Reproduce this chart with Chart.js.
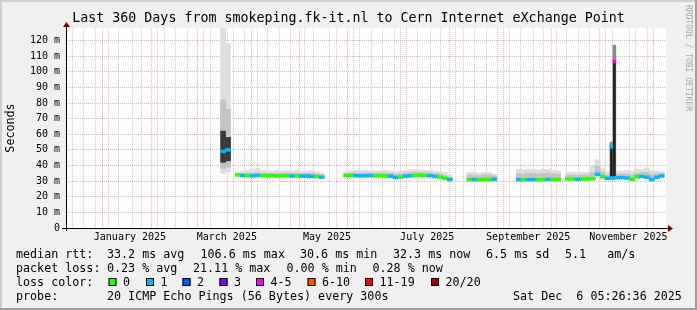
<!DOCTYPE html>
<html>
<head>
<meta charset="utf-8">
<script src="https://cdn.jsdelivr.net/npm/chart.js@4/dist/chart.umd.min.js"></script>
<style>
  html, body { margin: 0; padding: 0; background: #f0f0f0; }
  canvas { display: block; }
</style>
</head>
<body>
<canvas id="graph" width="697" height="310"></canvas>
<script>
// x values are days since Dec 11 2024 05:26 (graph start), 3-day steps
const days = [93, 96,
  102, 105, 108, 111, 114, 117, 120, 123, 126, 129, 132, 135, 138, 141, 144, 147, 150, 153,
  168, 171, 174, 177, 180, 183, 186, 189, 192, 195, 198, 201, 204, 207, 210, 213, 216, 219, 222, 225, 228, 231,
  243, 246, 249, 252, 255, 258,
  273, 276, 279, 282, 285, 288, 291, 294, 297,
  303, 306, 309, 312, 315, 318, 321, 324, 327, 330, 333, 336, 339, 342, 345, 348, 351, 354, 357, 360];

// median rtt in ms
const median = [49, 50,
  34.0, 33.6, 33.5, 33.4, 33.6, 33.5, 33.4, 33.5, 33.3, 33.4, 33.5, 33.3, 33.4, 33.2, 33.3, 33.0, 32.9, 32.5,
  33.5, 33.6, 33.5, 33.4, 33.5, 33.6, 33.4, 33.5, 33.3, 33.2, 32.3, 32.6, 33.2, 33.4, 33.7, 33.8, 33.6, 33.5, 33.0, 32.6, 31.8, 31.0,
  31.0, 31.0, 30.9, 31.0, 31.0, 31.2,
  31.0, 30.9, 31.0, 31.0, 30.9, 31.0, 31.1, 31.0, 31.0,
  31.3, 31.3, 31.2, 31.3, 31.4, 31.5, 34.4, 32.8, 31.8, 32.0, 32.2, 32.3, 32.0, 31.2, 32.8, 33.0, 32.5, 31.0, 32.5, 33.3];

// loss colour class (index into lossColors)
const loss = [1, 1,
  0, 1, 0, 1, 1, 0, 0, 0, 0, 0, 0, 1, 0, 1, 1, 1, 0, 1,
  0, 0, 1, 1, 1, 1, 0, 0, 0, 1, 1, 0, 1, 1, 0, 0, 0, 1, 1, 0, 0, 1,
  0, 1, 0, 0, 0, 1,
  1, 0, 1, 1, 0, 0, 1, 0, 0,
  0, 0, 1, 0, 0, 0, 1, 0, 1, 1, 1, 1, 1, 0, 0, 1, 1, 1, 1, 1];

// smoke: fastest / slowest ping
const smokeMin = [35, 36,
  33.0, 32.6, 32.5, 32.5, 32.6, 32.5, 32.5, 32.5, 32.4, 32.5, 32.5, 32.4, 32.5, 32.3, 32.4, 32.1, 32.0, 31.6,
  32.6, 32.6, 32.5, 32.5, 32.5, 32.6, 32.5, 32.5, 32.4, 32.3, 31.5, 31.7, 32.3, 32.5, 32.8, 32.8, 32.6, 32.5, 32.0, 31.6, 30.8, 30.2,
  30.3, 30.3, 30.2, 30.3, 30.3, 30.4,
  30.3, 30.2, 30.3, 30.3, 30.2, 30.3, 30.4, 30.3, 30.3,
  30.6, 30.6, 30.5, 30.6, 30.6, 30.8, 32.5, 31.8, 30.8, 31.0, 31.2, 31.3, 31.0, 30.4, 31.8, 32.0, 31.5, 30.2, 31.5, 32.3];
const smokeMax = [128, 118,
  35.0, 36.5, 37.0, 37.5, 38.0, 37.0, 36.5, 36.5, 37.0, 36.5, 36.8, 36.5, 37.0, 36.5, 36.5, 36.8, 36.0, 35.0,
  36.0, 36.5, 36.8, 36.5, 37.0, 36.8, 36.5, 36.8, 37.0, 36.5, 36.0, 36.5, 37.0, 37.5, 37.5, 37.2, 37.0, 36.8, 36.5, 36.2, 35.5, 34.0,
  35.5, 35.5, 35.0, 35.5, 35.5, 34.5,
  37.5, 37.0, 37.5, 37.5, 37.0, 37.5, 37.5, 37.0, 36.5,
  35.4, 35.5, 35.4, 35.5, 35.5, 40.0, 43.7, 38.0, 36.0, 36.0, 36.5, 36.5, 37.0, 36.5, 37.5, 37.5, 38.5, 37.0, 36.5, 36.0];
// smoke: denser middle part of the pings
const innerLo = [38, 39,
  33.6, 33.2, 33.1, 33.0, 33.2, 33.1, 33.0, 33.1, 32.9, 33.0, 33.1, 32.9, 33.0, 32.8, 32.9, 32.6, 32.5, 32.1,
  33.1, 33.2, 33.1, 33.0, 33.1, 33.2, 33.0, 33.1, 32.9, 32.8, 31.9, 32.2, 32.8, 33.0, 33.3, 33.4, 33.2, 33.1, 32.6, 32.2, 31.4, 30.6,
  30.7, 30.7, 30.6, 30.7, 30.7, 30.9,
  30.7, 30.6, 30.7, 30.7, 30.6, 30.7, 30.8, 30.7, 30.7,
  31.0, 31.0, 30.9, 31.0, 31.1, 31.2, 33.4, 32.4, 31.4, 31.6, 31.8, 31.9, 31.6, 30.8, 32.4, 32.6, 32.1, 30.6, 32.1, 32.9];
const innerHi = [82, 76,
  34.5, 35.0, 35.2, 35.4, 35.6, 35.2, 35.0, 35.0, 35.2, 35.0, 35.2, 35.0, 35.2, 34.9, 35.0, 35.0, 34.6, 34.0,
  35.0, 35.2, 35.3, 35.2, 35.4, 35.3, 35.1, 35.3, 35.3, 35.0, 34.4, 34.8, 35.4, 35.7, 35.8, 35.6, 35.5, 35.3, 34.9, 34.6, 33.6, 32.6,
  34.0, 33.5, 33.5, 34.0, 34.0, 33.5,
  35.0, 34.5, 35.0, 35.0, 34.5, 35.0, 35.2, 34.8, 34.5,
  33.6, 33.8, 33.6, 33.8, 33.8, 35.5, 39.5, 35.5, 33.8, 34.0, 34.5, 34.6, 34.6, 33.8, 35.2, 35.4, 35.6, 34.0, 34.6, 35.0];

// dark core of the March cluster
const coreDays = [93, 96];
const coreLo = [42, 43];
const coreHi = [62, 58];

// November spike
const spikeDays = [329.4, 331.2];
const spikeMin = [31.5, 31.5];
const spikeMax = [55, 117];
const spikeCoreLo = [31.8, 32.0];
const spikeCoreHi = [52, 107];
const spikeMedian = [52.0, 106.6];
const spikeLoss = [1, 4];

const lossColors = ["#26ff00", "#00b8ff", "#0059ff", "#7e00ff", "#ff00ff", "#ff5500", "#ff0000", "#a10000"];
const lossLabels = ["0", "1", "2", "3", "4-5", "6-10", "11-19", "20/20"];

// axes
const yMajor = [0, 10, 20, 30, 40, 50, 60, 70, 80, 90, 100, 110, 120];
const yLabels = ["0", "10 m", "20 m", "30 m", "40 m", "50 m", "60 m", "70 m", "80 m", "90 m", "100 m", "110 m", "120 m"];
const monthStarts = [20.774, 51.774, 79.774, 110.774, 140.774, 171.774, 201.774, 232.774, 263.774, 293.774, 324.774, 354.774];
const monthLabelDays = [36.27, 95.27, 156.27, 217.27, 278.77, 339.77];
const monthLabels = ["January 2025", "March 2025", "May 2025", "July 2025", "September 2025", "November 2025"];
const firstMonday = 4.774;

const MONO = "DejaVu Sans Mono";
const GRID = "rgba(143,143,143,0.46)";
const MGRID = "rgba(222,80,80,0.46)";

const floating = (xs, lo, hi) => xs.map((x, i) => ({ x: x, y: [lo[i], hi[i]] }));
const marker = (xs, m) => xs.map((x, i) => ({ x: x, y: [m[i] - 0.9, m[i] + 0.9] }));

const barBase = { type: "bar", grouped: false, borderWidth: 0, barThickness: 5 };

const frame = {
  id: "frame",
  beforeDraw(chart) {
    const { ctx, chartArea: a } = chart;
    ctx.save();
    ctx.fillStyle = "#f0f0f0";
    ctx.fillRect(0, 0, 697, 310);
    ctx.fillStyle = "#cfcfcf";
    ctx.fillRect(0, 0, 697, 2);
    ctx.fillRect(0, 0, 2, 310);
    ctx.fillStyle = "#9e9e9e";
    ctx.fillRect(0, 308, 697, 2);
    ctx.fillRect(695, 0, 2, 310);
    ctx.fillStyle = "#ffffff";
    ctx.fillRect(a.left, a.top, a.right - a.left, a.bottom - a.top);
    ctx.restore();
  },
  afterDraw(chart) {
    const { ctx, chartArea: a } = chart;
    ctx.save();
    // axes
    ctx.strokeStyle = "#000";
    ctx.lineWidth = 1;
    ctx.beginPath();
    ctx.moveTo(a.left - 4, a.bottom + 0.5);
    ctx.lineTo(a.right + 4, a.bottom + 0.5);
    ctx.moveTo(a.left + 0.5, a.bottom + 3);
    ctx.lineTo(a.left + 0.5, a.top - 3);
    ctx.stroke();
    ctx.fillStyle = "#7f0000";
    ctx.beginPath();
    ctx.moveTo(a.right + 2, a.bottom - 3);
    ctx.lineTo(a.right + 7, a.bottom + 0.5);
    ctx.lineTo(a.right + 2, a.bottom + 4);
    ctx.fill();
    ctx.beginPath();
    ctx.moveTo(a.left - 3, a.top - 1);
    ctx.lineTo(a.left + 0.5, a.top - 6);
    ctx.lineTo(a.left + 4, a.top - 1);
    ctx.fill();

    // legend
    ctx.fillStyle = "#000";
    ctx.font = "11.7px '" + MONO + "'";
    ctx.textBaseline = "middle";
    ctx.textAlign = "left";
    const rows = [
      [254.5, [["median rtt:", 16], ["33.2 ms avg", 107], ["106.6 ms max", 200.5], ["30.6 ms min", 300], ["32.3 ms now", 393], ["6.5 ms sd", 486], ["5.1   am/s", 565]]],
      [268.5, [["packet loss:", 16], ["0.23 % avg", 107], ["21.11 % max", 193], ["0.00 % min", 286.5], ["0.28 % now", 372.5]]],
      [282.5, [["loss color:", 16]]],
      [296.5, [["probe:", 16], ["20 ICMP Echo Pings (56 Bytes) every 300s", 107], ["Sat Dec  6 05:26:36 2025", 513]]]
    ];
    rows.forEach(([y, items]) => items.forEach(([t, x]) => ctx.fillText(t, x, y)));
    const boxX = [108.5, 146, 182.5, 219.5, 256, 307.5, 365, 431];
    lossLabels.forEach((lbl, i) => {
      ctx.fillStyle = lossColors[i];
      ctx.fillRect(boxX[i], 278, 8, 8);
      ctx.strokeStyle = "#000";
      ctx.strokeRect(boxX[i] + 0.5, 278.5, 7, 7);
      ctx.fillStyle = "#000";
      ctx.fillText(lbl, boxX[i] + 14.5, 282.5);
    });

    // watermark
    ctx.translate(688, 5);
    ctx.rotate(Math.PI / 2);
    ctx.font = "8px '" + MONO + "'";
    ctx.fillStyle = "#a8a8a8";
    ctx.fillText("RRDTOOL / TOBI OETIKER", 0, 0);
    ctx.restore();
  }
};

new Chart(document.getElementById("graph"), {
  data: {
    datasets: [
      { ...barBase, order: 1, data: marker(spikeDays, spikeMedian), backgroundColor: spikeLoss.map(l => lossColors[l]), barThickness: 3 },
      { ...barBase, order: 2, data: marker(days, median), backgroundColor: loss.map(l => lossColors[l]) },
      { ...barBase, order: 3, data: floating(spikeDays, spikeCoreLo, spikeCoreHi), backgroundColor: "#222222", barThickness: 2 },
      { ...barBase, order: 4, data: floating(spikeDays, spikeMin, spikeMax), backgroundColor: "#8c8c8c", barThickness: 3 },
      { ...barBase, order: 5, data: floating(coreDays, coreLo, coreHi), backgroundColor: "#3a3a3a" },
      { ...barBase, order: 6, data: floating(days, innerLo, innerHi), backgroundColor: "#c4c4c4" },
      { ...barBase, order: 7, data: floating(days, smokeMin, smokeMax), backgroundColor: "#dedede" }
    ]
  },
  options: {
    responsive: false,
    animation: false,
    events: [],
    devicePixelRatio: 1,
    layout: { padding: 0 },
    plugins: {
      legend: { display: false },
      tooltip: { enabled: false },
      title: {
        display: true,
        text: "Last 360 Days from smokeping.fk-it.nl to Cern Internet eXchange Point",
        color: "#000",
        font: { family: MONO, size: 13.3, weight: "normal", lineHeight: "16px" },
        padding: { top: 11, bottom: 1 }
      }
    },
    scales: {
      x: {
        type: "linear",
        min: 0,
        max: 360,
        afterFit: (s) => { s.height = 82; },
        afterBuildTicks: (s) => {
          const t = [];
          for (let d = firstMonday; d < 360; d += 7) t.push({ value: d, kind: "w" });
          monthStarts.forEach(v => t.push({ value: v, kind: "m" }));
          monthLabelDays.forEach((v, i) => t.push({ value: v, kind: "l", text: monthLabels[i] }));
          t.sort((p, q) => p.value - q.value);
          s.ticks = t;
        },
        ticks: {
          autoSkip: false,
          maxRotation: 0,
          padding: 3,
          color: "#000",
          font: { family: MONO, size: 10 },
          callback: (v, i, ticks) => ticks[i].text || ""
        },
        grid: {
          drawTicks: false,
          color: (c) => c.tick && c.tick.kind === "m" ? MGRID : (c.tick && c.tick.kind === "w" ? GRID : "rgba(0,0,0,0)")
        },
        border: { display: false, dash: [1, 1] }
      },
      y: {
        type: "linear",
        min: 0,
        max: 128,
        afterFit: (s) => { s.width = 66; },
        afterBuildTicks: (s) => {
          const t = [];
          yMajor.forEach((v, i) => {
            t.push({ value: v, major: true, text: yLabels[i] });
            t.push({ value: v + 5 });
          });
          s.ticks = t;
        },
        ticks: {
          padding: 6,
          color: "#000",
          font: { family: MONO, size: 10 },
          callback: (v, i, ticks) => ticks[i].text || ""
        },
        title: {
          display: true,
          text: "Seconds",
          color: "#000",
          font: { family: MONO, size: 11.7, lineHeight: "14px" },
          padding: { top: 4, bottom: 0 }
        },
        grid: {
          drawTicks: false,
          color: (c) => !c.tick || c.tick.value === 0 ? "rgba(0,0,0,0)" : (c.tick.major ? MGRID : GRID)
        },
        border: { display: false, dash: [1, 1] }
      },
      // empty right-hand axis: only reserves the margin beside the plot
      yRight: {
        type: "linear",
        position: "right",
        min: 0,
        max: 128,
        afterFit: (s) => { s.width = 31; },
        ticks: { display: false },
        grid: { display: false },
        border: { display: false }
      }
    }
  },
  plugins: [frame]
});
</script>
</body>
</html>
